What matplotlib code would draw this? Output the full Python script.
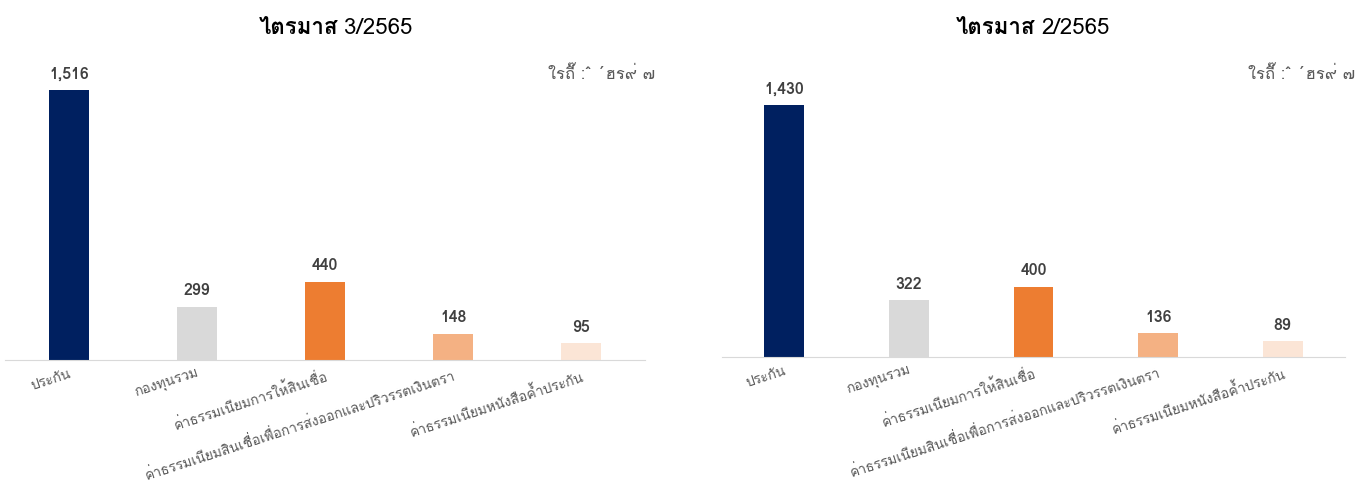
import matplotlib
matplotlib.use("Agg")
import matplotlib.pyplot as plt

categories = [
    "ประกัน",
    "กองทุนรวม",
    "ค่าธรรมเนียมการให้สินเชื่อ",
    "ค่าธรรมเนียมสินเชื่อเพื่อการส่งออกและปริวรรตเงินตรา",
    "ค่าธรรมเนียมหนังสือค้ำประกัน",
]
q3_values = [1516, 299, 440, 148, 95]
q2_values = [1430, 322, 400, 136, 89]
title_word = "ไตรมาส"
quarters = ["3/2565", "2/2565"]
unit_text = "ใรถี๊ :ˆ ´ฮร๙่ ๗"
colors = ["#002060", "#D9D9D9", "#ED7D31", "#F4B183", "#FBE5D6"]

plt.rcParams["font.family"] = ["Loma", "DejaVu Sans"]

W, H = 1367, 482
fig = plt.figure(figsize=(W / 100, H / 100), dpi=100)
axes_boxes = [
    (5 / W, 1 - 360 / H, 640 / W, 285 / H),
    (722 / W, 1 - 357 / H, 623 / W, 282 / H),
]
title_centers = [335, 1032]
for box, tc, quarter, vals in zip(axes_boxes, title_centers, quarters,
                                  [q3_values, q2_values]):
    ax = fig.add_axes(box)
    x = range(len(categories))
    bars = ax.bar(x, vals, width=0.32, color=colors)
    ax.set_xlim(-0.5, len(categories) - 0.5)
    ax.set_ylim(0, 1600)
    for b, v in zip(bars, vals):
        ax.annotate(f"{v:,}", (b.get_x() + b.get_width() / 2, v),
                    xytext=(0, 6), textcoords="offset points",
                    ha="center", va="bottom", fontsize=11.5,
                    fontweight="bold", color="#404040", clip_on=False)
    for s in ["top", "right", "left"]:
        ax.spines[s].set_visible(False)
    ax.spines["bottom"].set_color("#D9D9D9")
    ax.set_yticks([])
    ax.set_xticks(list(x))
    ax.set_xticklabels(categories, rotation=18, ha="right",
                       rotation_mode="anchor", fontsize=10, color="#595959")
    ax.tick_params(axis="x", length=0, pad=6)
    # title: Thai word bold, quarter number regular
    fig.text((tc + 3) / W, 1 - 28 / H, title_word, ha="right", va="center",
             fontsize=16, fontweight="bold", color="#000000")
    fig.text((tc + 9) / W, 1 - 28 / H, quarter, ha="left", va="center",
             fontsize=16, color="#000000")
    fig.text(box[0] + box[2] + 10 / W, 1 - 75 / H, unit_text,
             ha="right", va="center", fontsize=12, color="#595959")

fig.savefig("out.png", dpi=100)
